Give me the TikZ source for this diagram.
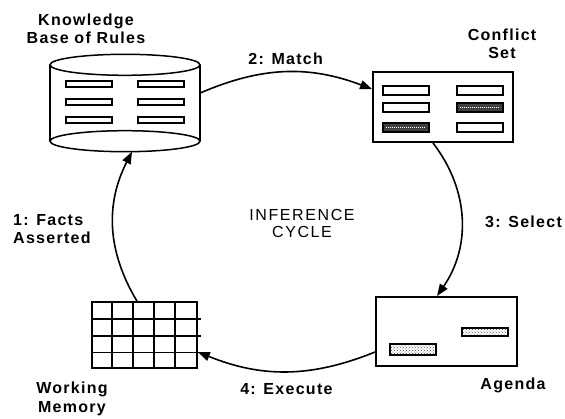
\documentclass[tikz,border=0pt]{standalone}
\usepackage{fontspec}
\setmainfont{Liberation Sans}
\newfontfamily\lblfont[LetterSpace=8]{Liberation Sans}
\newfontfamily\capfont[LetterSpace=10]{Liberation Sans}
\usetikzlibrary{arrows.meta,calc,patterns}

\begin{document}
\begin{tikzpicture}[x=1pt,y=1pt,
		lbl/.style={font=\lblfont\bfseries\fontsize{16pt}{18.5pt}\selectfont,align=center,inner sep=0pt},
		box/.style={draw,line width=1.9pt,inner sep=0pt},
		can/.style={line width=1.5pt},
		slot/.style={draw,line width=2pt,fill=white,minimum width=46pt,minimum height=6pt,inner sep=0pt},
		hslot/.style={slot,fill=black!75,path picture={\draw[white,line width=1pt,dash pattern=on 1pt off 1pt]
				($(path picture bounding box.west)+(3pt,0)$) -- ($(path picture bounding box.east)+(-3pt,0)$);}},
		aslot/.style={slot,pattern=crosshatch dots,pattern color=black!70},
		gridline/.style={line width=1.6pt},
		flow/.style={-{Triangle[length=12pt,width=9pt]},line width=1.6pt},
		]
		\useasboundingbox (0,0) rectangle (565,418);
		
		% knowledge base (cylinder)
		\node[minimum width=150pt,minimum height=97pt,inner sep=0pt] (kb) at (125,315) {};
		\draw[can] ($(kb.north)+(0,-10.5)$) ellipse [x radius=75pt,y radius=10.5pt];
		\draw[can] ($(kb.south)+(0,10.5)$) ellipse [x radius=75pt,y radius=10.5pt];
		\draw[can] ($(kb.north west)+(0,-10.5)$) -- ($(kb.south west)+(0,10.5)$);
		\draw[can] ($(kb.north east)+(0,-10.5)$) -- ($(kb.south east)+(0,10.5)$);
		\foreach \y [count=\i] in {334,316,298}
		{\node[slot] (kbl\i) at (89,\y) {};
			\node[slot] (kbr\i) at (161,\y) {};}
		
		% conflict set
		\node[box,minimum width=140pt,minimum height=70pt] (cset) at (443,311) {};
		\foreach \y/\l/\r [count=\i] in {327.5/slot/slot,310.5/slot/hslot,290.5/hslot/slot}
		{\node[\l,minimum height=9pt] (csl\i) at (405.5,\y) {};
			\node[\r,minimum height=9pt] (csr\i) at (479.5,\y) {};}
		
		% agenda
		\node[box,minimum width=141pt,minimum height=69pt] (agenda) at (446.5,86.5) {};
		\node[aslot,minimum height=8pt] (ag1) at (485,86) {};
		\node[aslot,minimum height=10.5pt] (ag2) at (412.5,68.5) {};
		
		% working memory
		\node[draw,gridline,minimum width=105pt,minimum height=66pt,inner sep=0pt] (wm) at (144.5,83) {};
		\foreach \i in {1,...,4}
		{\draw[gridline] ($(wm.south west)+(21*\i,0)$) -- ($(wm.north west)+(21*\i,0)$);}
		\foreach \j in {1,2,3}
		{\draw[gridline] ($(wm.south west)+(0,16.5*\j)$) -- ($(wm.south east)+(3,16.5*\j)$);}
		
		% names
		\node[lbl] (kbname) at (86,389) {Knowledge\\Base of Rules};
		\node[lbl] (csname) at (502,374) {Conflict\\Set};
		\node[lbl] (agname) at (513,33) {Agenda};
		\node[lbl] (wmname) at (72,19) {Working\\Memory};
		\node[font=\capfont\fontsize{16pt}{17pt}\selectfont,align=center,inner sep=0pt] (cycle) at (302,194.5) {INFERENCE\\CYCLE};
		
		% cycle
		\draw[flow] ($(kb.east)+(0,10)$) to[bend left=22]
		node[lbl,above=7pt] (matchlbl) {2: Match} ($(cset.north west)+(0,-18)$);
		\draw[flow] ($(cset.south)+(-10,0)$) to[bend left=36] ($(agenda.north)+(-9.5,0)$);
		\draw[flow] ($(agenda.west)+(0,-20.5)$) to[bend left=22]
		node[lbl,below=11pt] (execlbl) {4: Execute} ($(wm.east)+(0,-17)$);
		\draw[flow] ($(wm.north)+(-7.5,0)$) to[bend left=29] ($(kb.south)+(7,0)$);
		\node[lbl,anchor=west] (selectlbl) at (485,196) {3: Select};
		\node[lbl,align=left,anchor=west] (factslbl) at (13,189) {1: Facts\\Asserted};
\end{tikzpicture}
\end{document}
